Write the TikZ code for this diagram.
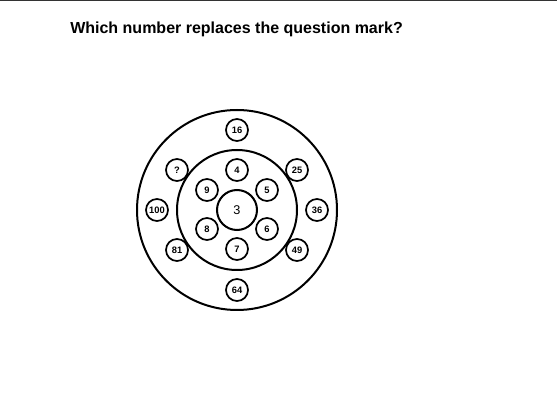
\documentclass[tikz,border=0pt]{standalone}
\usepackage{fontspec}
\setmainfont{Liberation Sans}
\usetikzlibrary{positioning}

\begin{document}
\begin{tikzpicture}[
    x=0.75pt, y=-0.75pt,
    ring/.style={draw, circle, line width=1.5pt, inner sep=0pt},
    num/.style={draw, circle, line width=1.3pt, inner sep=0pt,
                minimum size=16.5pt, font=\fontsize{7}{8}\selectfont\bfseries}
  ]
    \useasboundingbox (0,0) rectangle (557,402);
    \draw[line width=0.9pt, black!80] (0,0.5) -- (557,0.5);
    \node[font=\fontsize{12}{14}\selectfont\bfseries, anchor=west, inner sep=0pt] (title) at (70,29)
      {Which number replaces the question mark?};

    % rings
    \node[ring, minimum size=150pt] (outer) at (237,210) {};
    \node[ring, minimum size=90pt] (inner) at (237,210) {};
    \node[ring, minimum size=30pt, font=\fontsize{9.5}{10}\selectfont] (centre) at (237,210) {3};

    % inner numbers
    \node[num] (n4) at (237,170) {4};
    \node[num] (n5) at (267,190) {5};
    \node[num] (n6) at (267,229) {6};
    \node[num] (n7) at (237,249) {7};
    \node[num] (n8) at (207,229) {8};
    \node[num] (n9) at (207,190) {9};

    % outer numbers
    \node[num] (n16) at (237,130) {16};
    \node[num] (n25) at (297,170) {25};
    \node[num] (n36) at (317,210) {36};
    \node[num] (n49) at (297,250) {49};
    \node[num] (n64) at (237,290) {64};
    \node[num] (n81) at (177,250) {81};
    \node[num] (n100) at (157,210) {100};
    \node[num] (nq) at (177,170) {?};
  \end{tikzpicture}
\end{document}
